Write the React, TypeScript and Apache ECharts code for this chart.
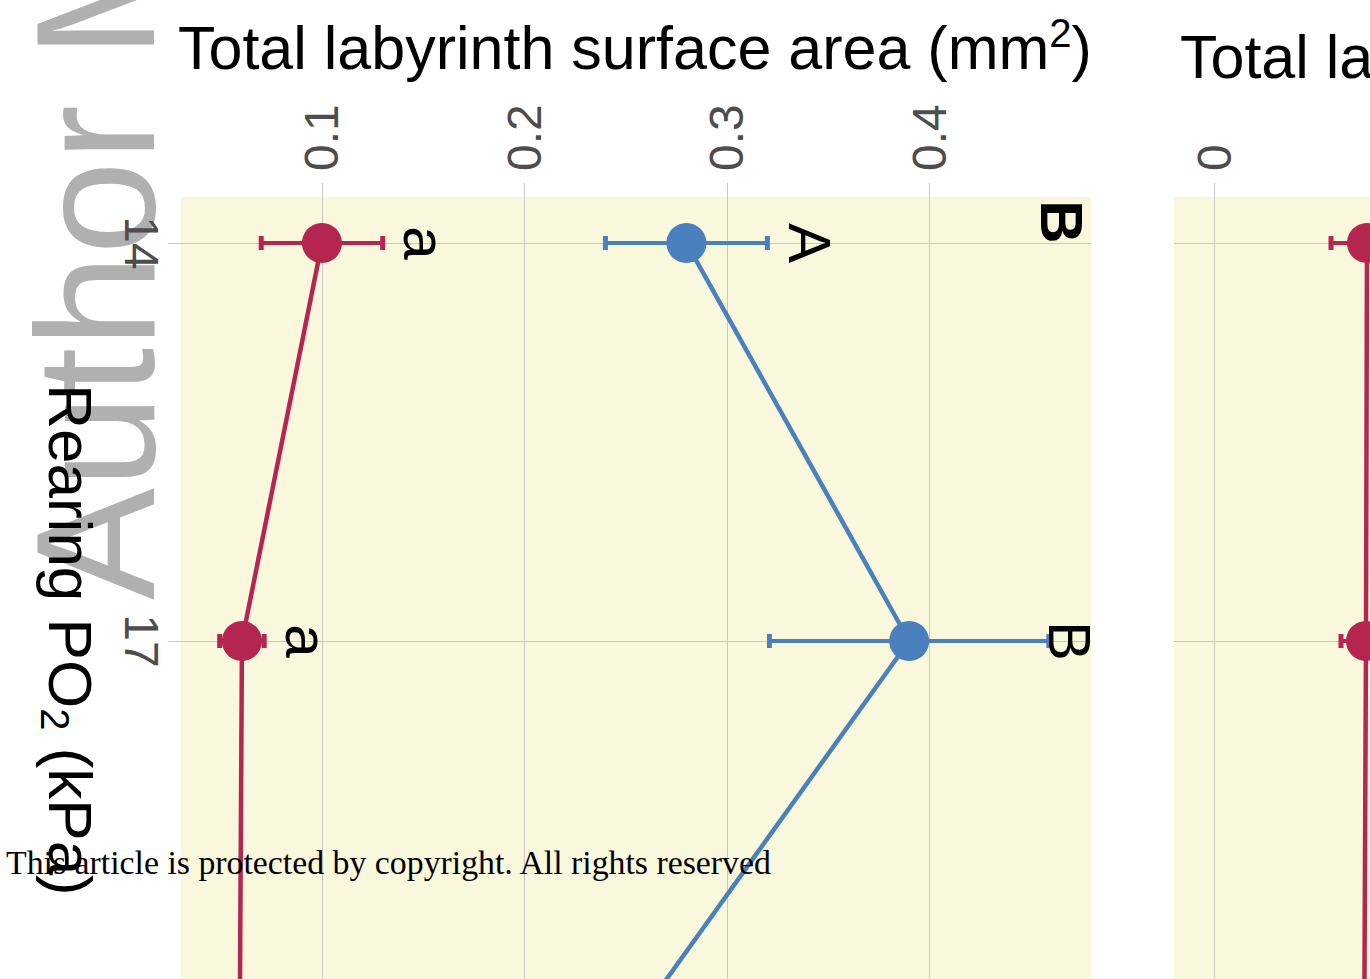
import React, { useEffect, useRef } from 'react';
import * as echarts from 'echarts';

// Rearing PO2 levels (kPa)
const po2 = [14, 17, 21];
const yTickValues = [14, 17, 21];
// x tick values
const xTickValues = [0.1, 0.2, 0.3, 0.4];
const xTickValues2 = [0, 0.1, 0.2, 0.3, 0.4];

// Panel 1 – total labyrinth surface area (mm2)
const redMean = [0.1, 0.0605, 0.059];
const redErr = [0.03, 0.011, 0.01];
const redLetters = ['a', 'a', 'a'];
const blueMean = [0.28, 0.39, 0.202];
const blueErr = [0.04, 0.069, 0.03];
const blueLetters = ['A', 'B', 'B'];

// Panel 2 (partly visible)
const red2Mean = [0.0765, 0.076, 0.0748];
const red2Err = [0.018, 0.0125, 0.01];

const RED = '#b4264f';
const BLUE = '#4a80be';
const BG = '#f9f8dc';
const GRID = '#c8c8c8';
const FONT = 'Liberation Sans';

const Y_MIN = 13.6533;
const Y_MAX = 19.5477;

function inGrid(params: any, y: number) {
  const cs = params.coordSys;
  return y >= cs.y && y <= cs.y + cs.height;
}

function errorBars(xi: number, means: number[], errs: number[], color: string) {
  return {
    type: 'custom',
    xAxisIndex: xi,
    yAxisIndex: xi,
    clip: true,
    z: 2,
    data: po2.map((p, i) => [means[i] - errs[i], means[i] + errs[i], p]),
    encode: { x: [0, 1], y: 2 },
    renderItem: (params: any, api: any) => {
      const lo = api.coord([api.value(0), api.value(2)]);
      const hi = api.coord([api.value(1), api.value(2)]);
      if (!inGrid(params, lo[1])) return null;
      const h = 7;
      return {
        type: 'group',
        children: [
          { type: 'line', shape: { x1: lo[0], y1: lo[1], x2: hi[0], y2: hi[1] }, style: { stroke: color, lineWidth: 4 } },
          { type: 'line', shape: { x1: lo[0], y1: lo[1] - h, x2: lo[0], y2: lo[1] + h }, style: { stroke: color, lineWidth: 5 } },
          { type: 'line', shape: { x1: hi[0], y1: hi[1] - h, x2: hi[0], y2: hi[1] + h }, style: { stroke: color, lineWidth: 5 } },
        ],
      };
    },
  };
}

function letterSeries(xi: number, means: number[], errs: number[], letters: string[]) {
  return {
    type: 'custom',
    xAxisIndex: xi,
    yAxisIndex: xi,
    clip: true,
    z: 4,
    data: po2.map((p, i) => [means[i] + errs[i], p]),
    encode: { x: 0, y: 1 },
    renderItem: (params: any, api: any) => {
      const pt = api.coord([api.value(0), api.value(1)]);
      if (!inGrid(params, pt[1])) return null;
      const right = params.coordSys.x + params.coordSys.width;
      const x = Math.min(pt[0] + 42, right - 22);
      return {
        type: 'text',
        x,
        y: pt[1],
        rotation: -Math.PI / 2,
        style: {
          text: letters[params.dataIndex],
          fontSize: 60,
          fontFamily: FONT,
          fill: '#000',
          align: 'center',
          verticalAlign: 'middle',
        },
      };
    },
  };
}

function lineSeries(xi: number, means: number[], color: string) {
  return {
    type: 'line',
    xAxisIndex: xi,
    yAxisIndex: xi,
    z: 3,
    data: po2.map((p, i) => [means[i], p]),
    symbol: 'circle',
    symbolSize: 40,
    itemStyle: { color },
    lineStyle: { color, width: 4.5 },
  };
}

const yAxisBase = (showLabels: boolean) => ({
  type: 'value',
  inverse: true,
  min: Y_MIN,
  max: Y_MAX,
  axisLine: { show: false },
  axisTick: {
    show: true,
    length: 13,
    lineStyle: { color: GRID, width: 1 },
    customValues: yTickValues.filter((v) => v >= Y_MIN && v <= Y_MAX),
  },
  axisLabel: {
    show: showLabels,
    rotate: -90,
    margin: 16,
    fontSize: 48,
    color: '#4d4d4d',
    fontFamily: FONT,
    customValues: yTickValues.filter((v) => v >= Y_MIN && v <= Y_MAX),
  },
  splitLine: { show: true, lineStyle: { color: GRID, width: 1 } },
});

const xAxisBase = (min: number, max: number, ticks: number[]) => ({
  type: 'value',
  position: 'top',
  min,
  max,
  axisLine: { show: false },
  axisTick: {
    show: true,
    length: 14,
    lineStyle: { color: GRID, width: 1 },
    customValues: ticks.filter((v) => v >= min && v <= max),
  },
  axisLabel: {
    rotate: -90,
    margin: 26,
    fontSize: 48,
    color: '#4d4d4d',
    fontFamily: FONT,
    customValues: ticks.filter((v) => v >= min && v <= max),
  },
  splitLine: { show: true, lineStyle: { color: GRID, width: 1 } },
});

const titleRich = {
  t: { fontSize: 61, fontFamily: FONT, fill: '#000', lineHeight: 70 },
  s: { fontSize: 40, fontFamily: FONT, fill: '#000', lineHeight: 40, verticalAlign: 'top' },
};

const option: any = {
  animation: false,
  textStyle: { fontFamily: FONT },
  grid: [
    { left: 181, top: 197, right: 279, bottom: 0, show: true, backgroundColor: BG, borderWidth: 0 },
    { left: 1174, top: 197, right: 0, bottom: 0, show: true, backgroundColor: BG, borderWidth: 0 },
  ],
  xAxis: [
    { ...xAxisBase(0.0304, 0.4798, xTickValues), gridIndex: 0 },
    { ...xAxisBase(-0.02, 0.078, xTickValues2), gridIndex: 1 },
  ],
  yAxis: [
    { ...yAxisBase(true), gridIndex: 0 },
    { ...yAxisBase(false), gridIndex: 1 },
  ],
  series: [
    errorBars(0, redMean, redErr, RED),
    errorBars(0, blueMean, blueErr, BLUE),
    lineSeries(0, redMean, RED),
    lineSeries(0, blueMean, BLUE),
    letterSeries(0, redMean, redErr, redLetters),
    letterSeries(0, blueMean, blueErr, blueLetters),
    errorBars(1, red2Mean, red2Err, RED),
    lineSeries(1, red2Mean, RED),
  ],
  graphic: [
    {
      type: 'text',
      x: 96,
      y: 600,
      rotation: Math.PI / 2,
      z: 0,
      style: {
        text: 'Author Manuscript',
        fontSize: 168,
        fontFamily: FONT,
        fill: '#b0b0b0',
        align: 'left',
        verticalAlign: 'middle',
      },
    },
    {
      type: 'text',
      x: 178,
      y: 48,
      z: 10,
      style: {
        text: '{t|Total labyrinth surface area (mm}{s|2}{t|)}',
        rich: titleRich,
        align: 'left',
        verticalAlign: 'middle',
      },
    },
    {
      type: 'text',
      x: 1180,
      y: 57,
      z: 10,
      style: {
        text: '{t|Total labyrinth surface area (mm}{s|2}{t|)}',
        rich: titleRich,
        align: 'left',
        verticalAlign: 'middle',
      },
    },
    {
      type: 'text',
      x: 70,
      y: 640,
      rotation: -Math.PI / 2,
      z: 10,
      style: {
        text: '{t|Rearing PO}{b|2}{t| (kPa)}',
        rich: {
          t: { fontSize: 62, fontFamily: FONT, fill: '#000', lineHeight: 70 },
          b: { fontSize: 40, fontFamily: FONT, fill: '#000', lineHeight: 40, verticalAlign: 'bottom' },
        },
        align: 'center',
        verticalAlign: 'middle',
      },
    },
    {
      type: 'text',
      x: 1061,
      y: 222,
      rotation: -Math.PI / 2,
      z: 10,
      style: {
        text: 'B',
        fontSize: 60,
        fontWeight: 'bold',
        fontFamily: FONT,
        fill: '#000',
        align: 'center',
        verticalAlign: 'middle',
      },
    },
    {
      type: 'text',
      x: 6,
      y: 862,
      z: 20,
      style: {
        text: 'This article is protected by copyright. All rights reserved',
        fontSize: 33.8,
        fontFamily: 'Liberation Serif',
        fill: '#000',
        align: 'left',
        verticalAlign: 'middle',
      },
    },
  ],
};

export default function App() {
  const ref = useRef<HTMLDivElement>(null);
  useEffect(() => {
    document.body.style.margin = '0';
    document.body.style.overflow = 'hidden';
    const chart = echarts.init(ref.current as HTMLDivElement, null, { renderer: 'svg' });
    chart.setOption(option);
    return () => chart.dispose();
  }, []);
  return <div ref={ref} style={{ width: 1370, height: 979 }} />;
}
